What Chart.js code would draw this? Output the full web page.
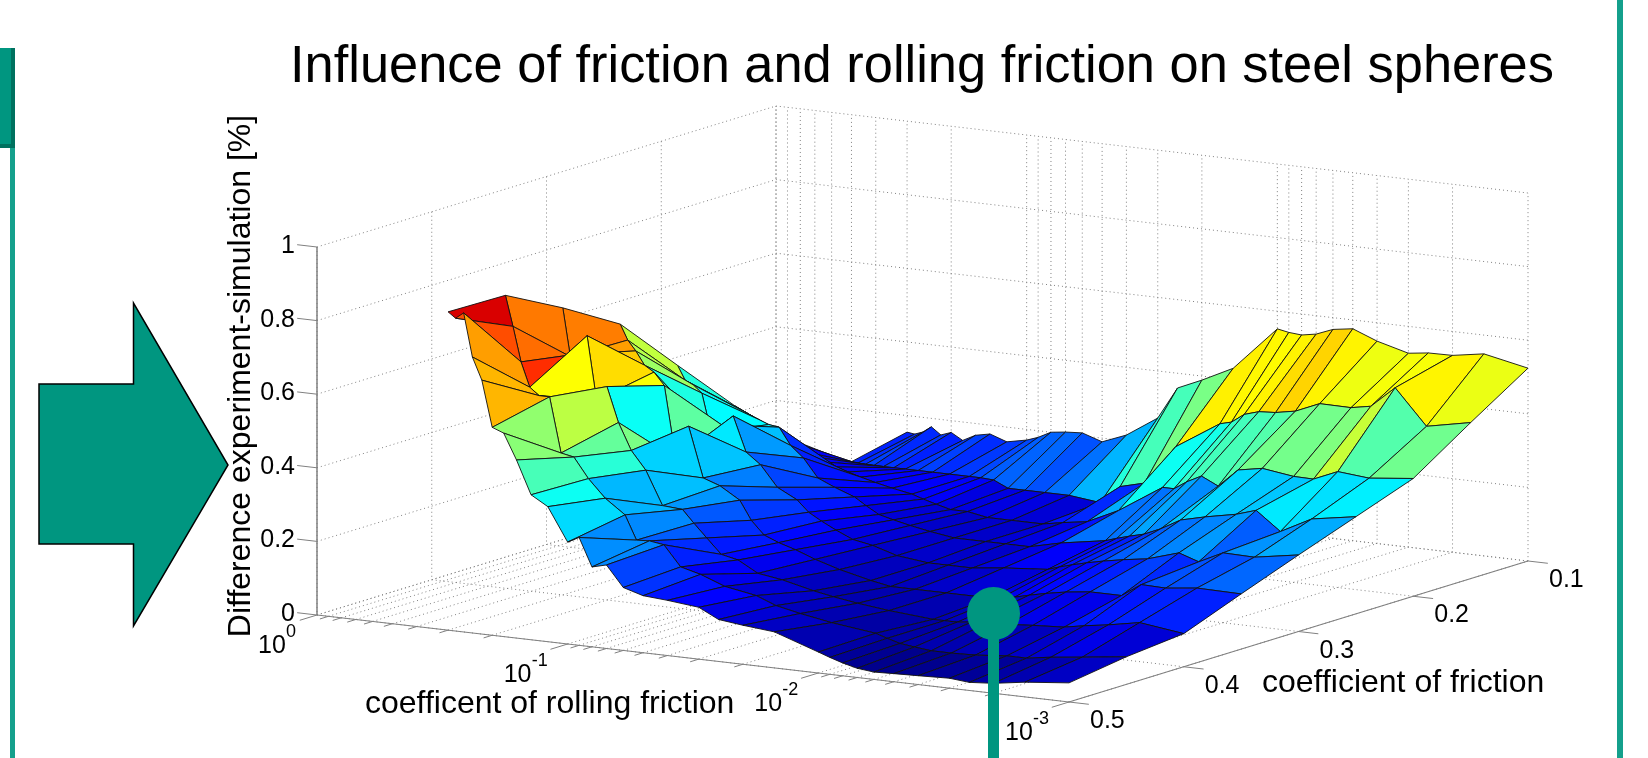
<!DOCTYPE html>
<html>
<head>
<meta charset="utf-8">
<title>Influence of friction and rolling friction on steel spheres</title>
<script src="https://cdn.jsdelivr.net/npm/chart.js@4"></script>
<style>
    html, body { margin: 0; padding: 0; background: #fff; overflow: hidden; }
    #stage { position: relative; width: 1648px; height: 758px; }
    canvas { position: absolute; left: 0; top: 0; }
    .deco { position: absolute; background: #009680; z-index: 2; }
    #tab { left: 0; top: 48px; width: 11px; height: 96px; border-right: 4px solid #00715f; border-bottom: 4px solid #00715f; }
    #leftRule { left: 10px; top: 148px; width: 5px; height: 610px; background: #14a08c; }
    #rightRule { left: 1617px; top: 0; width: 6px; height: 758px; background: #14a08c; }
    #dot { left: 967px; top: 587px; width: 53px; height: 53px; border-radius: 50%; }
    #stem { left: 988px; top: 630px; width: 11px; height: 128px; }
    #arrow { position: absolute; left: 0; top: 0; z-index: 2; }
</style>
</head>
<body>
<div id="stage">
    <canvas id="surfaceChart" width="1648" height="758"></canvas>
    <div class="deco" id="tab"></div>
    <div class="deco" id="leftRule"></div>
    <div class="deco" id="rightRule"></div>
    <svg id="arrow" width="260" height="758">
        <polygon points="39,384 133.5,384 133.5,303 228,465 133.5,626 133.5,544 39,544" fill="#009680" stroke="#000" stroke-width="1.5"></polygon>
    </svg>
    <div class="deco" id="dot"></div>
    <div class="deco" id="stem"></div>
</div>
<script>
const rollingFriction = [0.3, 0.28, 0.26, 0.24, 0.22, 0.2, 0.18, 0.16, 0.14, 0.12, 0.1, 0.09, 0.08, 0.07, 0.06, 0.05, 0.04, 0.03, 0.025, 0.02, 0.015, 0.01, 0.009, 0.008, 0.007, 0.006, 0.005, 0.004, 0.003, 0.0025, 0.002, 0.0015, 0.001];
const friction = [0.5, 0.45, 0.4, 0.35, 0.3, 0.25, 0.2, 0.15, 0.1];

// difference experiment-simulation, one list per coefficient of friction
const diffF050 = [0.865, 0.85, 0.867, 0.75, 0.69, 0.565, 0.553, 0.484, 0.394, 0.367, 0.277, 0.293, 0.217, 0.227, 0.171, 0.155, 0.15, 0.141, 0.114, 0.106, 0.098, 0.057, 0.046, 0.035, 0.025, 0.02, 0.022, 0.024, 0.027, 0.022, 0.027, 0.04, 0.052];
const diffF045 = [0.862, 0.78, 0.686, 0.62, 0.6, 0.6, 0.451, 0.444, 0.39, 0.342, 0.303, 0.238, 0.24, 0.234, 0.179, 0.165, 0.14, 0.125, 0.104, 0.09, 0.075, 0.06, 0.05, 0.04, 0.035, 0.03, 0.03, 0.032, 0.04, 0.04, 0.05, 0.06, 0.075];
const diffF040 = [0.78, 0.65, 0.66, 0.712, 0.54, 0.58, 0.486, 0.414, 0.365, 0.274, 0.27, 0.236, 0.2, 0.16, 0.15, 0.12, 0.11, 0.09, 0.08, 0.07, 0.06, 0.05, 0.05, 0.05, 0.055, 0.06, 0.06, 0.065, 0.07, 0.08, 0.09, 0.106, 0.09];
const diffF035 = [0.688, 0.647, 0.62, 0.584, 0.568, 0.535, 0.34, 0.432, 0.296, 0.28, 0.247, 0.196, 0.16, 0.144, 0.13, 0.11, 0.09, 0.07, 0.06, 0.06, 0.06, 0.06, 0.065, 0.07, 0.08, 0.09, 0.1, 0.108, 0.108, 0.144, 0.142, 0.152, 0.15];
const diffF030 = [0.528, 0.49, 0.48, 0.46, 0.355, 0.38, 0.408, 0.314, 0.284, 0.228, 0.2, 0.17, 0.15, 0.13, 0.11, 0.1, 0.08, 0.07, 0.07, 0.07, 0.08, 0.09, 0.1, 0.11, 0.12, 0.13, 0.14, 0.15, 0.176, 0.158, 0.19, 0.188, 0.208];
const diffF025 = [0.37, 0.36, 0.35, 0.34, 0.33, 0.326, 0.28, 0.25, 0.2, 0.18, 0.16, 0.14, 0.12, 0.11, 0.1, 0.09, 0.08, 0.08, 0.08, 0.08, 0.1, 0.12, 0.13, 0.14, 0.15, 0.17, 0.2, 0.216, 0.233, 0.25, 0.2, 0.244, 0.264];
const diffF020 = [0.23, 0.22, 0.2, 0.19, 0.18, 0.17, 0.16, 0.15, 0.14, 0.13, 0.12, 0.11, 0.1, 0.09, 0.09, 0.08, 0.08, 0.08, 0.09, 0.1, 0.14, 0.217, 0.217, 0.24, 0.26, 0.238, 0.288, 0.3, 0.288, 0.287, 0.315, 0.307, 0.32];
const diffF015 = [0.12, 0.12, 0.12, 0.12, 0.12, 0.12, 0.12, 0.12, 0.12, 0.12, 0.12, 0.12, 0.118, 0.1, 0.1, 0.1, 0.1, 0.09, 0.14, 0.157, 0.266, 0.342, 0.35, 0.375, 0.387, 0.39, 0.4, 0.428, 0.427, 0.437, 0.495, 0.4, 0.424];
const diffF010 = [0.155, 0.152, 0.16, 0.177, 0.158, 0.168, 0.15, 0.168, 0.176, 0.16, 0.171, 0.182, 0.2, 0.205, 0.208, 0.19, 0.216, 0.272, 0.36, 0.389, 0.431, 0.552, 0.546, 0.543, 0.55, 0.568, 0.576, 0.55, 0.527, 0.534, 0.535, 0.549, 0.524];

const rollingGrid = [1, 0.9, 0.8, 0.7, 0.6, 0.5, 0.4, 0.3, 0.2, 0.1, 0.09, 0.08, 0.07, 0.06, 0.05, 0.04, 0.03, 0.02, 0.01, 0.009, 0.008, 0.007, 0.006, 0.005, 0.004, 0.003, 0.002, 0.001];
const rollingTicks = [1, 0.1, 0.01, 0.001];
const frictionTicks = [0.1, 0.2, 0.3, 0.4, 0.5];
const diffTicks = [0, 0.2, 0.4, 0.6, 0.8, 1];

const surfaceRows = [diffF050, diffF045, diffF040, diffF035, diffF030, diffF025, diffF020, diffF015, diffF010];

// orthographic view of the box
function project(rolling, fric, diff) {
    const t = -Math.log10(rolling) / 3;
    const s = (0.5 - fric) / 0.4;
    return {
        x: 317 + 752 * t + 459 * s,
        y: 615 + 87 * t - 141 * s - 368 * diff
    };
}

// MATLAB jet over the range of the colour axis
function jet(diff) {
    const v = Math.min(1, Math.max(0, (diff - 0.02) / 0.833));
    const c = (a) => Math.round(255 * Math.min(1, Math.max(0, 1.5 - Math.abs(4 * v - a))));
    return `rgb(${c(3)},${c(2)},${c(1)})`;
}

function polyline(points, color, width, dash) {
    return { data: points, showLine: true, borderColor: color, borderWidth: width, borderDash: dash || [], pointRadius: 0, fill: false, tension: 0 };
}

// drawn back to front, so the list is reversed at the end
const layers = [];
const dotted = [1, 3];
const gridColor = '#808080';

rollingGrid.forEach((r) => {
    layers.push(polyline([project(r, 0.5, 0), project(r, 0.1, 0), project(r, 0.1, 1)], gridColor, 1, dotted));
});
frictionTicks.forEach((f) => {
    layers.push(polyline([project(1, f, 1), project(1, f, 0), project(0.001, f, 0)], gridColor, 1, dotted));
});
diffTicks.forEach((d) => {
    layers.push(polyline([project(1, 0.5, d), project(1, 0.1, d), project(0.001, 0.1, d)], gridColor, 1, dotted));
});

for (let k = friction.length - 1; k > 0; k--) {
    for (let j = 0; j < rollingFriction.length - 1; j++) {
        const corners = [
            project(rollingFriction[j], friction[k - 1], surfaceRows[k - 1][j]),
            project(rollingFriction[j + 1], friction[k - 1], surfaceRows[k - 1][j + 1]),
            project(rollingFriction[j + 1], friction[k], surfaceRows[k][j + 1]),
            project(rollingFriction[j], friction[k], surfaceRows[k][j])
        ];
        corners.push(corners[0]);
        const quad = polyline(corners, '#111', 0.9);
        quad.fill = 'shape';
        quad.backgroundColor = jet(surfaceRows[k][j + 1]);
        layers.push(quad);
    }
}

// axes and their tick marks
const axisColor = '#808080';
layers.push(polyline([project(1, 0.5, 0), project(0.001, 0.5, 0), project(0.001, 0.1, 0)], axisColor, 1.2));
layers.push(polyline([project(1, 0.5, 0), project(1, 0.5, 1)], axisColor, 1.5));
rollingGrid.forEach((r) => {
    const len = rollingTicks.includes(r) ? 0.015 : 0.0075;
    layers.push(polyline([project(r, 0.5, 0), project(r, 0.5 + len, 0)], axisColor, 1));
});
frictionTicks.forEach((f) => {
    layers.push(polyline([project(0.001, f, 0), project(0.001 / 1.2, f, 0)], axisColor, 1));
});
diffTicks.forEach((d) => {
    layers.push(polyline([project(1, 0.5, d), project(1.2, 0.5, d)], axisColor, 1));
});

const labelFont = 'Liberation Sans';

const axisText = {
    id: 'axisText',
    afterDatasetsDraw(chart) {
        const ctx = chart.ctx;
        const px = (p) => ({ x: chart.scales.x.getPixelForValue(p.x), y: chart.scales.y.getPixelForValue(p.y) });
        ctx.save();
        ctx.fillStyle = '#000';
        ctx.textBaseline = 'alphabetic';

        ctx.font = `25px "${labelFont}"`;
        ctx.textAlign = 'right';
        diffTicks.forEach((d) => {
            const p = px(project(1, 0.5, d));
            ctx.fillText(String(d), p.x - 22, p.y + 6);
        });
        ctx.textAlign = 'left';
        frictionTicks.forEach((f) => {
            const p = px(project(0.001, f, 0));
            ctx.fillText(f.toFixed(1), p.x + 21, p.y + 26);
        });
        rollingTicks.forEach((r) => {
            const p = px(project(r, 0.5, 0));
            const exp = Math.round(Math.log10(r));
            const dx = r === 1 ? -59 : -64;
            ctx.font = `25px "${labelFont}"`;
            ctx.fillText('10', p.x + dx, p.y + 38);
            ctx.font = `18px "${labelFont}"`;
            ctx.fillText(String(exp), p.x + dx + 28, p.y + 22);
        });

        ctx.font = `32px "${labelFont}"`;
        ctx.fillText('coefficent of rolling friction', 365, 713);
        ctx.fillText('coefficient of friction', 1262, 692);
        ctx.translate(250, 376);
        ctx.rotate(-Math.PI / 2);
        ctx.textAlign = 'center';
        ctx.fillText('Difference experiment-simulation [%]', 0, 0);
        ctx.restore();
    }
};

new Chart(document.getElementById('surfaceChart'), {
    type: 'scatter',
    data: { datasets: layers.reverse() },
    options: {
        responsive: false,
        animation: false,
        events: [],
        layout: { padding: { left: 196 } },
        plugins: {
            legend: { display: false },
            tooltip: { enabled: false },
            title: {
                display: true,
                text: 'Influence of friction and rolling friction on steel spheres',
                color: '#000',
                font: { family: labelFont, size: 52.4, weight: 'normal', lineHeight: 1.2 },
                padding: { top: 36.6, bottom: 0.52 }
            }
        },
        scales: {
            x: { type: 'linear', display: false, min: 196, max: 1648 },
            y: { type: 'linear', display: false, min: 100, max: 758, reverse: true }
        }
    },
    plugins: [axisText]
});
</script>
</body>
</html>
